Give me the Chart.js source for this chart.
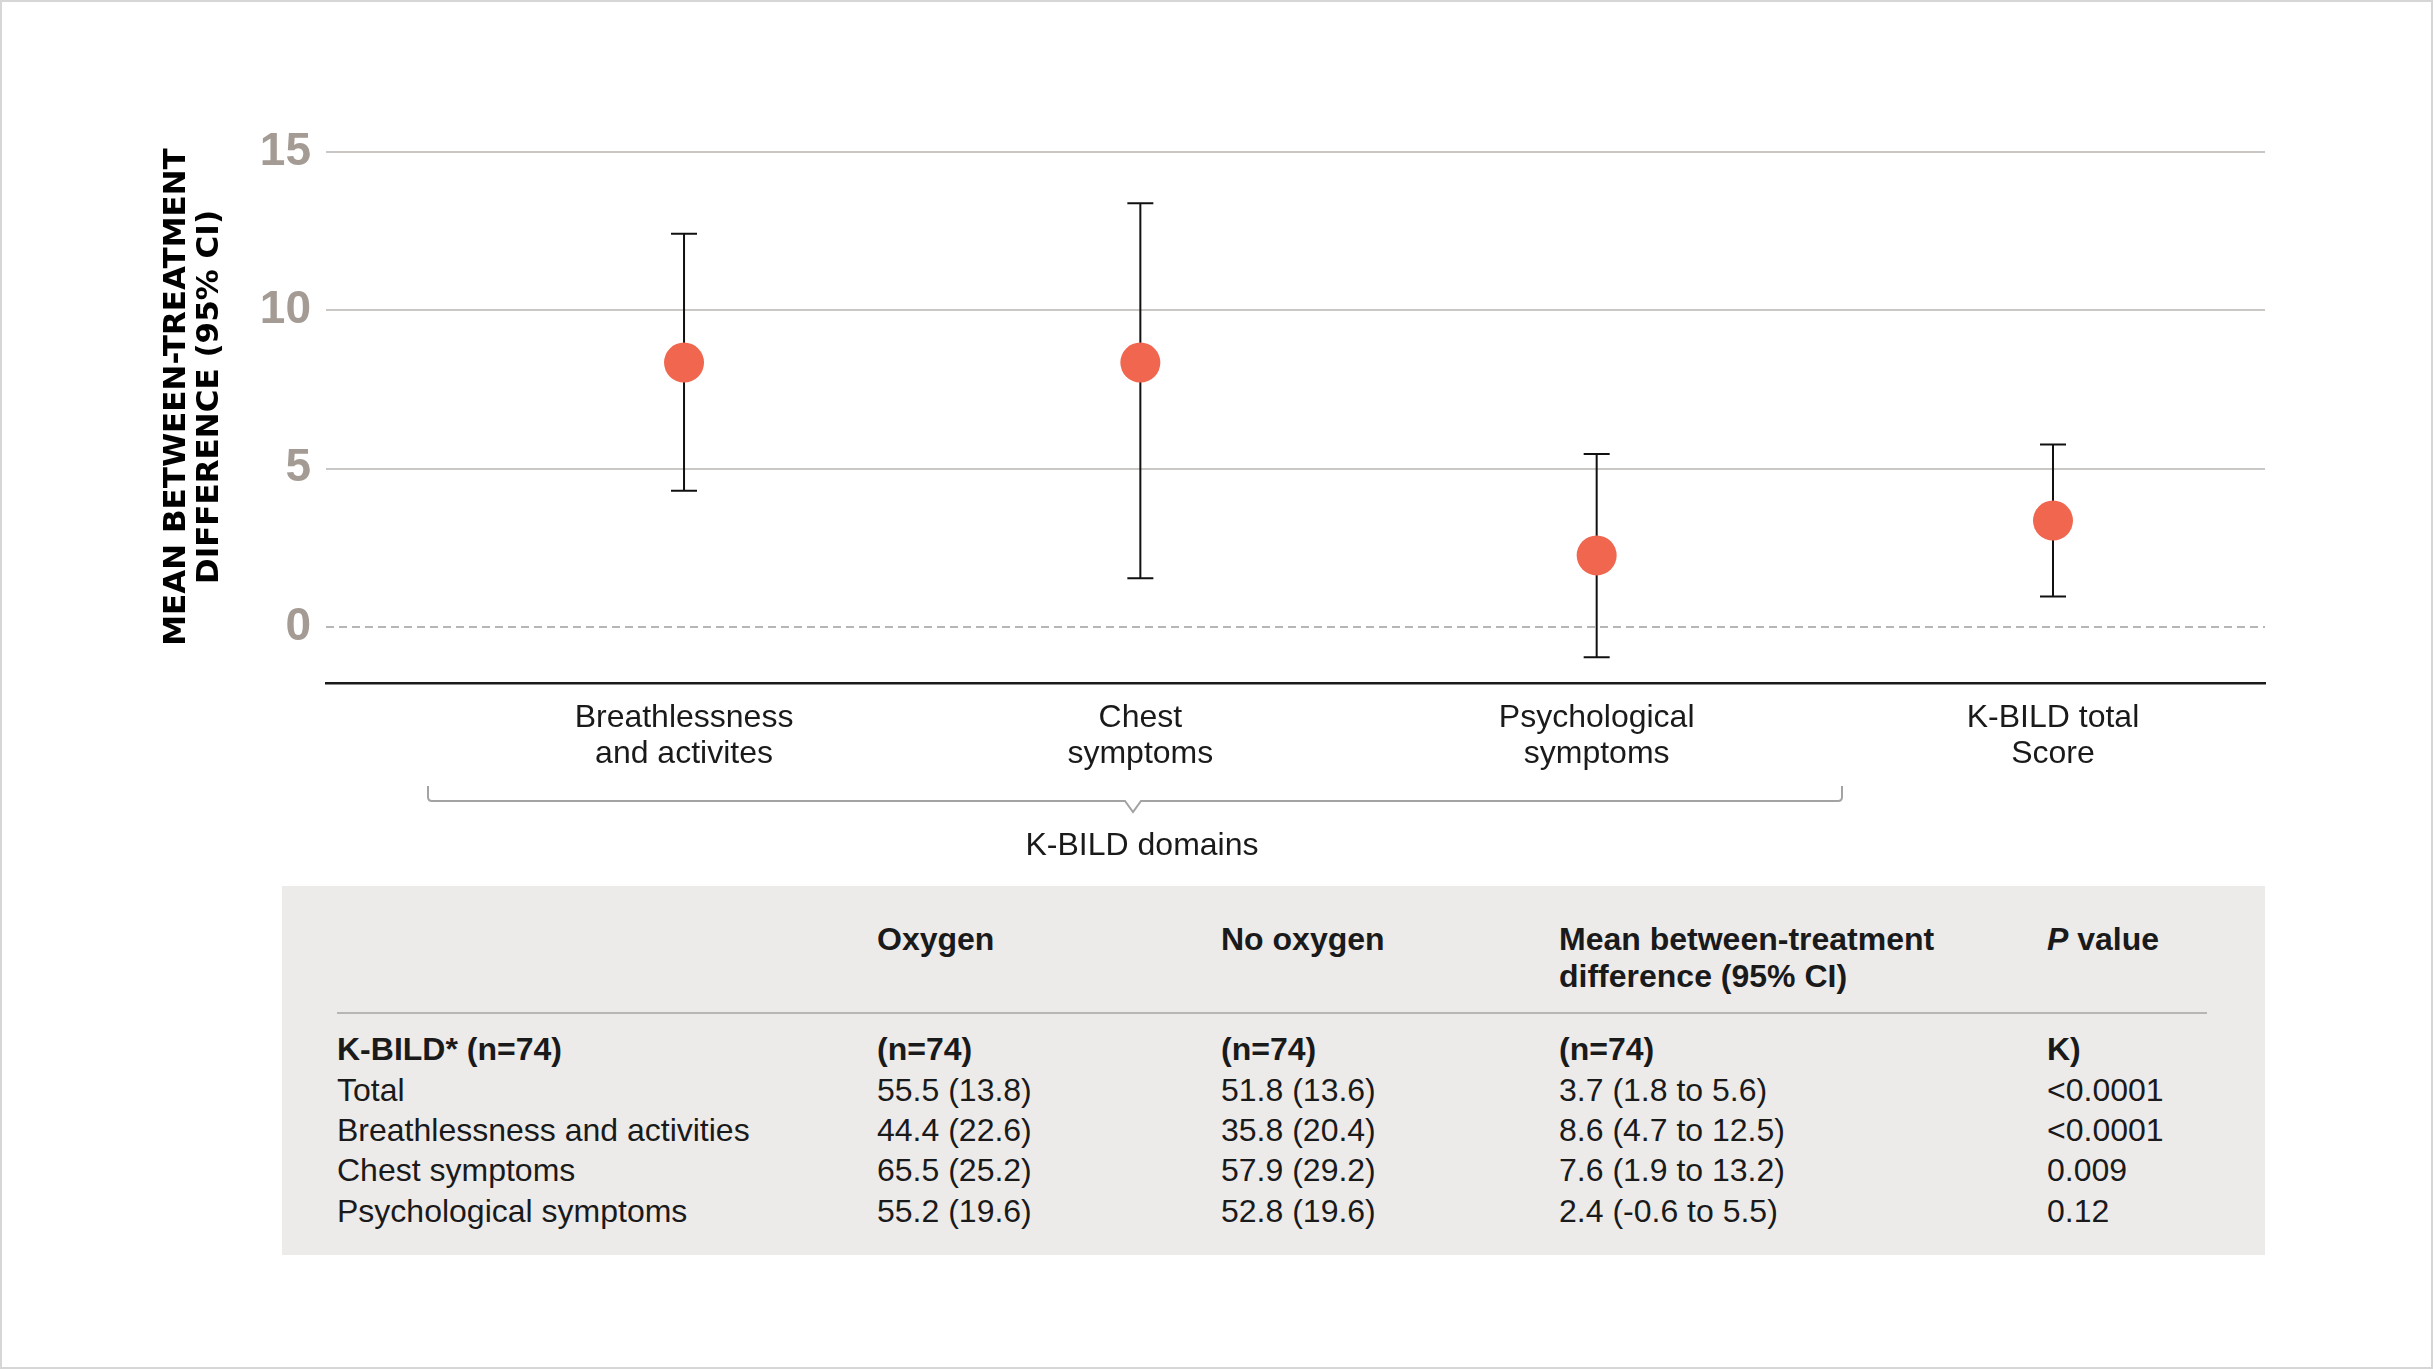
<!DOCTYPE html>
<html>
<head>
<meta charset="utf-8">
<title>K-BILD mean between-treatment difference</title>
<script src="https://cdn.jsdelivr.net/npm/chart.js@4.4.1/dist/chart.umd.min.js"></script>
<style>
    html, body {
        margin: 0;
        padding: 0;
        background: #ffffff;
    }
    body {
        width: 2433px;
        height: 1369px;
        position: relative;
        overflow: hidden;
        font-family: "Liberation Sans", Arial, sans-serif;
        color: #1a1a1a;
        box-sizing: border-box;
        border: 2px solid #d6d6d6;
    }
    #chart-wrap {
        position: absolute;
        left: -2px;
        top: -2px;
        width: 2433px;
        height: 800px;
    }
    #y-title {
        position: absolute;
        left: 189px;
        top: 395px;
        transform: translate(-50%, -50%) rotate(-90deg);
        font-family: "DejaVu Sans", sans-serif;
        font-weight: bold;
        font-size: 31px;
        line-height: 33px;
        text-align: center;
        white-space: nowrap;
        color: #000;
    }
    #brace {
        position: absolute;
        left: -2px;
        top: -2px;
    }
    #group-label {
        position: absolute;
        left: 1140px;
        top: 842px;
        transform: translate(-50%, -50%);
        font-size: 32px;
        white-space: nowrap;
    }
    #table {
        position: absolute;
        left: 280px;
        top: 884px;
        width: 1983px;
        height: 369px;
        background: #edebea;
    }
    #table .cell {
        position: absolute;
        font-size: 32px;
        line-height: 37px;
        white-space: nowrap;
        transform: translateY(-50%);
    }
    #table .bold {
        font-weight: bold;
    }
    #table .rule {
        position: absolute;
        left: 55px;
        width: 1870px;
        top: 126px;
        height: 2px;
        background: #b9b5b2;
    }
</style>
</head>
<body>

<div id="chart-wrap"><canvas id="diff-chart" width="2433" height="800"></canvas></div>
<div id="y-title">MEAN BETWEEN-TREATMENT<br>DIFFERENCE (95% CI)</div>

<svg id="brace" width="2433" height="900">
    <path d="M428 786 L428 797 Q428 801 432 801 L1125 801 L1133 812 L1141 801 L1838 801 Q1842 801 1842 797 L1842 786"
          fill="none" stroke="#a3a3a3" stroke-width="2"/>
</svg>
<div id="group-label">K-BILD domains</div>

<div id="table"><div class="rule"></div></div>

<script>
    "use strict";

    // Chart data
    var categories = [
        ["Breathlessness", "and activites"],
        ["Chest", "symptoms"],
        ["Psychological", "symptoms"],
        ["K-BILD total", "Score"]
    ];
    var meanDiff = [8.35, 8.35, 2.26, 3.36];
    var ciLower = [4.3, 1.54, -0.96, 0.96];
    var ciUpper = [12.42, 13.38, 5.46, 5.76];
    var yTicks = [0, 5, 10, 15];

    // Table data
    var tableHeader = ["", "Oxygen", "No oxygen", "Mean between-treatment<br>difference (95% CI)", "<i>P</i> value"];
    var tableSubHeader = ["K-BILD* (n=74)", "(n=74)", "(n=74)", "(n=74)", "K)"];
    var tableRowNames = ["Total", "Breathlessness and activities", "Chest symptoms", "Psychological symptoms"];
    var oxygenValues = ["55.5 (13.8)", "44.4 (22.6)", "65.5 (25.2)", "55.2 (19.6)"];
    var noOxygenValues = ["51.8 (13.6)", "35.8 (20.4)", "57.9 (29.2)", "52.8 (19.6)"];
    var diffValues = ["3.7 (1.8 to 5.6)", "8.6 (4.7 to 12.5)", "7.6 (1.9 to 13.2)", "2.4 (-0.6 to 5.5)"];
    var pValues = ["<0.0001", "<0.0001", "0.009", "0.12"];


    // Error bars + dashed zero line
    var errorBars = {
        id: "errorBars",
        beforeDatasetsDraw: function (chart) {
            var ctx = chart.ctx;
            var xs = chart.scales.x;
            var ys = chart.scales.y;
            var area = chart.chartArea;

            // zero reference line
            var y0 = ys.getPixelForValue(0);
            ctx.save();
            ctx.strokeStyle = "#9e9e9e";
            ctx.lineWidth = 1.5;
            ctx.setLineDash([8, 5]);
            ctx.beginPath();
            ctx.moveTo(area.left, y0);
            ctx.lineTo(area.right, y0);
            ctx.stroke();
            ctx.restore();

            ctx.save();
            ctx.strokeStyle = "#111111";
            ctx.lineWidth = 2;
            for (var i = 0; i < meanDiff.length; i++) {
                var px = xs.getPixelForValue(i + 1);
                var top = ys.getPixelForValue(ciUpper[i]);
                var bottom = ys.getPixelForValue(ciLower[i]);
                ctx.beginPath();
                ctx.moveTo(px, top);
                ctx.lineTo(px, bottom);
                ctx.moveTo(px - 13, top);
                ctx.lineTo(px + 13, top);
                ctx.moveTo(px - 13, bottom);
                ctx.lineTo(px + 13, bottom);
                ctx.stroke();
            }
            ctx.restore();
        }
    };

    var points = meanDiff.map(function (v, i) {
        return { x: i + 1, y: v };
    });

    var ctx1 = document.getElementById("diff-chart").getContext("2d");
    var myChart1 = new Chart(ctx1, {
        type: "scatter",
        data: {
            datasets: [{
                label: "Mean difference",
                data: points,
                pointRadius: 20,
                pointHoverRadius: 20,
                pointBackgroundColor: "#f0664f",
                pointBorderWidth: 0,
                borderWidth: 0
            }]
        },
        options: {
            responsive: false,
            animation: false,
            layout: {
                padding: { top: 152, right: 168, bottom: 0, left: 0 }
            },
            plugins: {
                legend: { display: false },
                tooltip: { enabled: false }
            },
            scales: {
                x: {
                    type: "linear",
                    min: 0.2154,
                    max: 4.4646,
                    afterBuildTicks: function (scale) {
                        scale.ticks = categories.map(function (c, i) {
                            return { value: i + 1 };
                        });
                    },
                    afterFit: function (scale) {
                        scale.height = 800 - 683;
                    },
                    grid: { display: false },
                    border: { display: true, color: "#1a1a1a", width: 2.5 },
                    ticks: {
                        autoSkip: false,
                        maxRotation: 0,
                        padding: 9,
                        color: "#1a1a1a",
                        font: { family: "Liberation Sans", size: 32, lineHeight: 1.13 },
                        callback: function (value) {
                            return categories[Math.round(value) - 1] || "";
                        }
                    }
                },
                y: {
                    type: "linear",
                    min: -1.77,
                    max: 15,
                    afterBuildTicks: function (scale) {
                        scale.ticks = yTicks.map(function (v) {
                            return { value: v };
                        });
                    },
                    afterFit: function (scale) {
                        scale.width = 326;
                    },
                    grid: {
                        drawTicks: false,
                        lineWidth: 2,
                        color: function (c) {
                            return c.tick && c.tick.value === 0 ? "rgba(0,0,0,0)" : "#cbc7c4";
                        }
                    },
                    border: { display: false },
                    ticks: {
                        padding: 15,
                        color: "#a39b94",
                        font: { family: "Liberation Sans", size: 46, weight: "bold" }
                    }
                }
            }
        },
        plugins: [errorBars]
    });


    // Table below the chart
    var table = document.getElementById("table");
    var colX = [55, 595, 939, 1277, 1765];
    var headerY = 53;
    var rowY = [163, 204, 244, 284, 325];

    function addCell(html, x, y, bold) {
        var d = document.createElement("div");
        d.className = "cell" + (bold ? " bold" : "");
        d.style.left = x + "px";
        d.style.top = y + "px";
        d.innerHTML = html;
        table.appendChild(d);
        return d;
    }

    tableHeader.forEach(function (h, c) {
        if (h) {
            var cell = addCell(h, colX[c], headerY, true);
            cell.style.transform = "translateY(-18px)";
        }
    });
    tableSubHeader.forEach(function (h, c) {
        addCell(h, colX[c], rowY[0], true);
    });
    var columns = [tableRowNames, oxygenValues, noOxygenValues, diffValues, pValues];
    for (var r = 0; r < tableRowNames.length; r++) {
        for (var c = 0; c < columns.length; c++) {
            addCell(columns[c][r].replace("<", "&lt;"), colX[c], rowY[r + 1], false);
        }
    }
</script>
</body>
</html>
